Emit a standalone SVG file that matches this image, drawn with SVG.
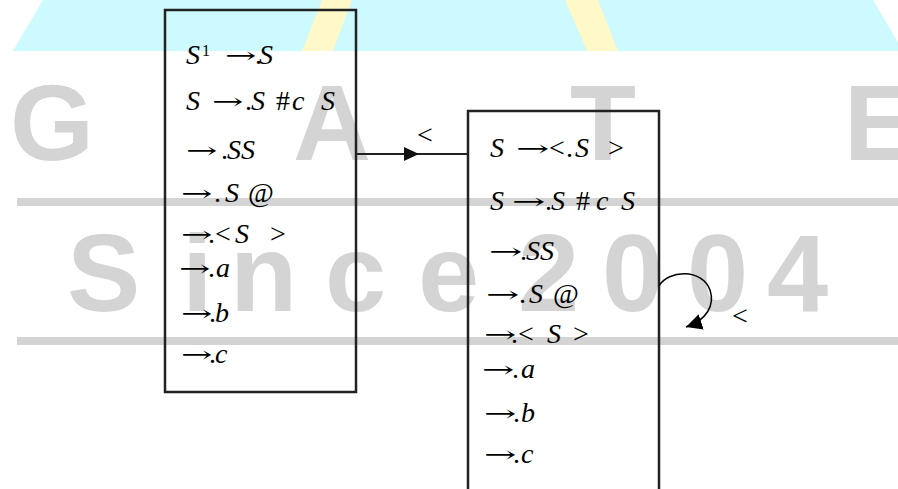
<svg xmlns="http://www.w3.org/2000/svg" width="898" height="489" viewBox="0 0 898 489">
<style>
.wm{font-family:"Liberation Sans",Arial,sans-serif;font-weight:bold;fill:#d4d4d4}
.t{font-family:"Liberation Serif","Times New Roman",serif;font-size:28px;fill:#000}
.ar{font-family:"DejaVu Serif","Liberation Serif",serif;font-size:22px;fill:#000}
.i{font-style:italic}
.box{fill:none;stroke:#222;stroke-width:2.5}
.edge{fill:none;stroke:#222;stroke-width:2.2}
.loop{fill:none;stroke:#000;stroke-width:1.5}
</style>
<defs>
<marker id="ah" markerUnits="userSpaceOnUse" markerWidth="18" markerHeight="16" refX="16" refY="8" orient="auto">
<path d="M0,0 L16,8 L0,16 Z" fill="#000"/>
</marker>
</defs>
<rect width="898" height="489" fill="#fff"/>
<g id="watermark">
<polygon points="43,0 873,0 903,51 13,51" fill="#ccfaff"/>
<polygon points="322,0 352,0 333,51 302,51" fill="#fff8c8"/>
<polygon points="565,0 598,0 618,51 587,51" fill="#fff8c8"/>
<rect x="17" y="198" width="881" height="8" fill="#d4d4d4"/>
<rect x="17" y="337" width="881" height="8" fill="#d4d4d4"/>
<text class="wm" font-size="108" y="160"><tspan x="10">G</tspan><tspan x="293">A</tspan><tspan x="570">T</tspan><tspan x="844">E</tspan></text>
<text class="wm" font-size="110" y="311"><tspan x="67">S</tspan><tspan x="182">i</tspan><tspan x="230">n</tspan><tspan x="325">c</tspan><tspan x="418">e</tspan><tspan x="518">2</tspan><tspan x="602">0</tspan><tspan x="687">0</tspan><tspan x="767">4</tspan></text>
</g>
<g id="state0">
<rect class="box" x="165" y="10" width="191" height="382"/>
<text class="t" y="64"><tspan class="i" x="186">S</tspan><tspan x="202" y="56" font-size="16">1</tspan><tspan x="255" y="64">.</tspan><tspan class="i" x="259" y="64">S</tspan></text>
<text class="ar" transform="translate(225 63) scale(1.7 1)">→</text>
<text class="t" y="110"><tspan class="i" x="186">S</tspan><tspan x="245">.</tspan><tspan class="i" x="251">S</tspan><tspan x="276">#</tspan><tspan class="i" x="292">c</tspan><tspan class="i" x="321">S</tspan></text>
<text class="ar" transform="translate(212 109) scale(1.7 1)">→</text>
<text class="t" y="159"><tspan x="221">.</tspan><tspan class="i" x="227">SS</tspan></text>
<text class="ar" transform="translate(186 158) scale(1.7 1)">→</text>
<text class="t" y="202"><tspan x="214">.</tspan><tspan class="i" x="225">S</tspan><tspan x="248">@</tspan></text>
<text class="ar" transform="translate(181 201) scale(1.7 1)">→</text>
<text class="t" y="243"><tspan x="208">.</tspan><tspan x="215">&lt;</tspan><tspan class="i" x="235">S</tspan><tspan x="270">&gt;</tspan></text>
<text class="ar" transform="translate(181 242) scale(1.7 1)">→</text>
<text class="t" y="277"><tspan x="208">.</tspan><tspan class="i" x="216">a</tspan></text>
<text class="ar" transform="translate(179 276) scale(1.7 1)">→</text>
<text class="t" y="322"><tspan x="209">.</tspan><tspan class="i" x="215">b</tspan></text>
<text class="ar" transform="translate(181 321) scale(1.7 1)">→</text>
<text class="t" y="363"><tspan x="209">.</tspan><tspan class="i" x="215">c</tspan></text>
<text class="ar" transform="translate(181 362) scale(1.7 1)">→</text>
</g>
<g id="state1">
<path class="box" d="M468,495 V111 H659 V495"/>
<text class="t" y="157"><tspan class="i" x="490">S</tspan><tspan x="549">&lt;</tspan><tspan x="566">.</tspan><tspan class="i" x="575">S</tspan><tspan x="608">&gt;</tspan></text>
<text class="ar" transform="translate(516 156) scale(1.8 1)">→</text>
<text class="t" y="210"><tspan class="i" x="490">S</tspan><tspan x="545">.</tspan><tspan class="i" x="551">S</tspan><tspan x="576">#</tspan><tspan class="i" x="596">c</tspan><tspan class="i" x="621">S</tspan></text>
<text class="ar" transform="translate(512 209) scale(1.8 1)">→</text>
<text class="t" y="260"><tspan x="520">.</tspan><tspan class="i" x="526">SS</tspan></text>
<text class="ar" transform="translate(489 259) scale(1.8 1)">→</text>
<text class="t" y="303"><tspan x="519">.</tspan><tspan class="i" x="529">S</tspan><tspan x="553">@</tspan></text>
<text class="ar" transform="translate(486 302) scale(1.8 1)">→</text>
<text class="t" y="343"><tspan x="511">.</tspan><tspan x="518">&lt;</tspan><tspan class="i" x="547">S</tspan><tspan x="573">&gt;</tspan></text>
<text class="ar" transform="translate(484 342) scale(1.75 1)">→</text>
<text class="t" y="378"><tspan x="512">.</tspan><tspan class="i" x="521">a</tspan></text>
<text class="ar" transform="translate(482 377) scale(1.75 1)">→</text>
<text class="t" y="422"><tspan x="513">.</tspan><tspan class="i" x="521">b</tspan></text>
<text class="ar" transform="translate(484 421) scale(1.75 1)">→</text>
<text class="t" y="463"><tspan x="513">.</tspan><tspan class="i" x="521">c</tspan></text>
<text class="ar" transform="translate(484 462) scale(1.75 1)">→</text>
</g>
<g id="connectors">
<line class="edge" x1="356" y1="154" x2="468" y2="154"/>
<path d="M404,147 L419,154 L404,161 Z" fill="#111"/>
<text class="t" x="417" y="144" font-size="24">&lt;</text>
<path class="loop" d="M659,286 C668,270 702,268 710,290 C715,305 707,320 686,327" marker-end="url(#ah)"/>
<text class="t" x="732" y="325" font-size="24">&lt;</text>
</g>
</svg>
